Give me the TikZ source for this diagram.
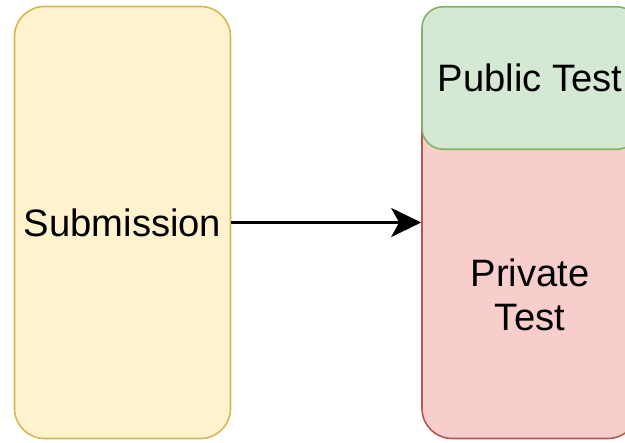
\documentclass[tikz,border=0pt]{standalone}
\usepackage{fontspec}
\setmainfont{Liberation Sans}
\usetikzlibrary{arrows.meta}
\definecolor{subfill}{HTML}{FFF2CC}
\definecolor{subline}{HTML}{D6B656}
\definecolor{pubfill}{HTML}{D5E8D4}
\definecolor{publine}{HTML}{82B366}
\definecolor{privfill}{HTML}{F8CECC}
\definecolor{privline}{HTML}{B85450}
\tikzset{
  box/.style={draw, line width=1.6pt, inner sep=0pt, text=black,
    font=\fontsize{38.2}{44}\selectfont},
  subbox/.style={box, fill=subfill, draw=subline, rounded corners=30pt,
    minimum width=216pt, minimum height=432pt},
  privbox/.style={box, fill=privfill, draw=privline, rounded corners=30pt,
    minimum width=216pt, minimum height=378.5pt},
  pubbox/.style={box, fill=pubfill, draw=publine, rounded corners=21pt,
    minimum width=216pt, minimum height=142.5pt},
  label/.style={inner sep=0pt, align=center, text=black,
    font=\fontsize{38.2}{44}\selectfont},
  flow/.style={line width=3.2pt, -{Stealth[length=30pt, width=29pt, inset=8pt]}}
}
\begin{document}
\begin{tikzpicture}[x=1pt, y=-1pt]
  \useasboundingbox (0,0) rectangle (625,443);
  \clip (0,0) rectangle (625,443);
  % submission block
  \node[subbox] (sub) at (122.5,222.5) {Submission};
  % test split: private below, public on top
  \node[privbox] (priv) at (530,249.25) {};
  \node[pubbox] (pub) at (530,78) {Public Test};
  \node[label] (privtxt) at (530,295) {Private\\Test};
  % submission is evaluated against the tests
  \draw[flow] (sub.east) -- (sub.east -| priv.west);
\end{tikzpicture}
\end{document}
